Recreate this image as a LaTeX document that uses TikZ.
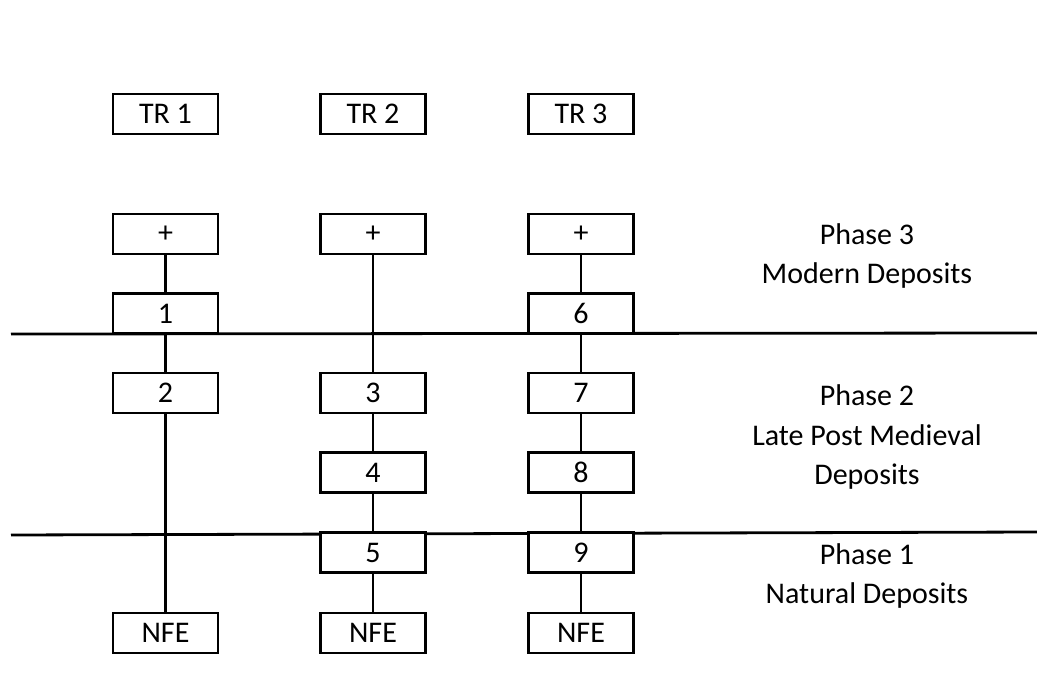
\documentclass[tikz,border=0pt]{standalone}
\usepackage{fontspec}
\setmainfont{Carlito}
\begin{document}
\begin{tikzpicture}[x=1pt,y=-1pt,
  ctx/.style={draw=black,line width=2.4pt,fill=white,minimum width=105pt,minimum height=40pt,inner sep=0pt,
    font=\fontsize{30}{40}\selectfont},
  link/.style={draw=black,line width=2.4pt},
  bound/.style={draw=black,line width=2.8pt},
  phase/.style={align=center,inner sep=0pt,font=\fontsize{30}{39.5}\selectfont}]
\useasboundingbox (0,0) rectangle (1037,690);

% phase boundaries
\coordinate (b3l) at (11,334);
\coordinate (b3r) at (1037,333);
\coordinate (b2l) at (11,535);
\coordinate (b2r) at (1037,532);
\draw[bound] (b3l) -- (b3r);
\draw[bound] (b2l) -- (b2r);

% trench headings
\node[ctx] (tr1) at (165.5,114) {TR 1};
\node[ctx] (tr2) at (373,114) {TR 2};
\node[ctx] (tr3) at (581,114) {TR 3};

% trench 1
\node[ctx] (p1) at (165.5,234) {+};
\node[ctx] (c1) at (165.5,313.5) {1};
\node[ctx] (c2) at (165.5,393) {2};
\node[ctx] (n1) at (165.5,633) {NFE};

% trench 2
\node[ctx] (p2) at (373,234) {+};
\node[ctx] (c3) at (373,393) {3};
\node[ctx] (c4) at (373,472.5) {4};
\node[ctx] (c5) at (373,552.5) {5};
\node[ctx] (n2) at (373,633) {NFE};

% trench 3
\node[ctx] (p3) at (581,234) {+};
\node[ctx] (c6) at (581,313.5) {6};
\node[ctx] (c7) at (581,393) {7};
\node[ctx] (c8) at (581,472.5) {8};
\node[ctx] (c9) at (581,552.5) {9};
\node[ctx] (n3) at (581,633) {NFE};

% stratigraphic links
\draw[link] (p1) -- (c1);
\draw[link] (c1) -- (c2);
\draw[link] (c2) -- (n1);
\draw[link] (p2) -- (c3);
\draw[link] (c3) -- (c4);
\draw[link] (c4) -- (c5);
\draw[link] (c5) -- (n2);
\draw[link] (p3) -- (c6);
\draw[link] (c6) -- (c7);
\draw[link] (c7) -- (c8);
\draw[link] (c8) -- (c9);
\draw[link] (c9) -- (n3);

% phase labels
\node[phase] (ph3) at (867,256) {Phase 3\\Modern Deposits};
\node[phase] (ph2) at (867,437) {Phase 2\\Late Post Medieval\\Deposits};
\node[phase] (ph1) at (867,576) {Phase 1\\Natural Deposits};
\end{tikzpicture}
\end{document}
